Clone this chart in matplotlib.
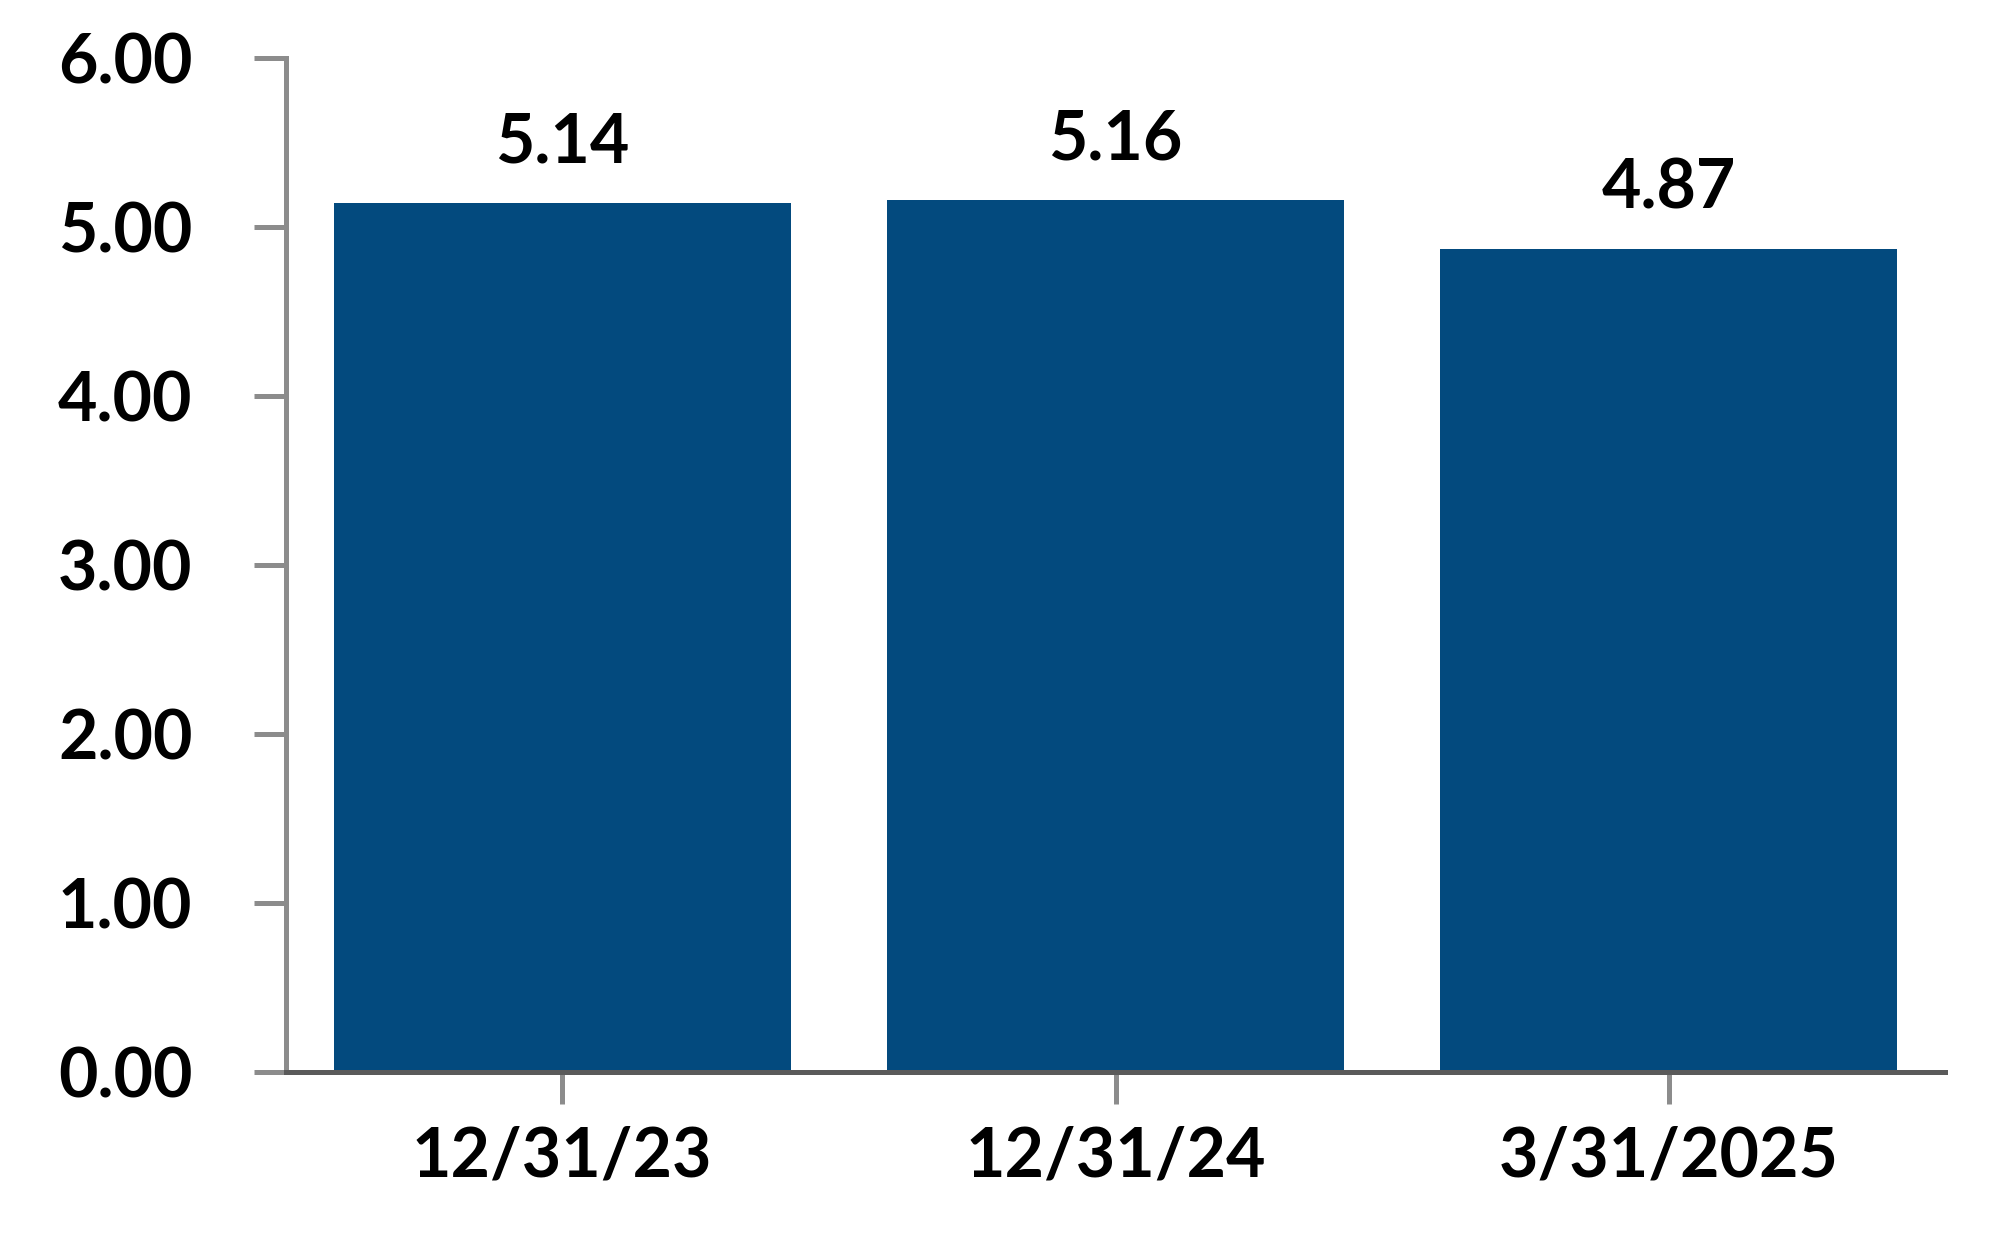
import matplotlib
matplotlib.use('Agg')
import matplotlib.pyplot as plt

plt.rcParams['font.family'] = ['Lato', 'DejaVu Sans']
plt.rcParams['font.weight'] = 'bold'

# data
dates = ['12/31/23', '12/31/24', '3/31/2025']
values = [5.14, 5.16, 4.87]
yticks = [0, 1, 2, 3, 4, 5, 6]

bar_color = '#034A7E'
light_gray = '#8C8C8C'
dark_gray = '#5A5A5A'

fig = plt.figure(figsize=(20.04, 12.6), dpi=100)
ax = fig.add_axes([0.1425, 0.1496, 0.9708 - 0.1425, 0.954 - 0.1496])

x = range(len(dates))
ax.bar(x, values, width=0.826, color=bar_color, zorder=2)

for xi, v in zip(x, values):
    ax.annotate('%.2f' % v, (xi, v), xytext=(0, 29), textcoords='offset points',
                ha='center', va='baseline', fontsize=49, fontweight='bold')

ax.set_xlim(-0.5, 2.5)
ax.set_ylim(0, 6)
ax.set_xticks(list(x))
ax.set_xticklabels(dates)
ax.set_yticks(yticks)
ax.set_yticklabels(['%.2f' % t for t in yticks])

for s in ['top', 'right']:
    ax.spines[s].set_visible(False)
ax.spines['left'].set_color(light_gray)
ax.spines['left'].set_linewidth(3.6)
ax.spines['bottom'].set_color(dark_gray)
ax.spines['bottom'].set_linewidth(3.6)
ax.spines['bottom'].set_zorder(3)

ax.tick_params(axis='y', length=23, width=3.6, color=light_gray, pad=44, labelsize=49)
ax.tick_params(axis='x', length=23, width=3.6, color=light_gray, pad=16, labelsize=49)

fig.savefig('out.png', dpi=100)
